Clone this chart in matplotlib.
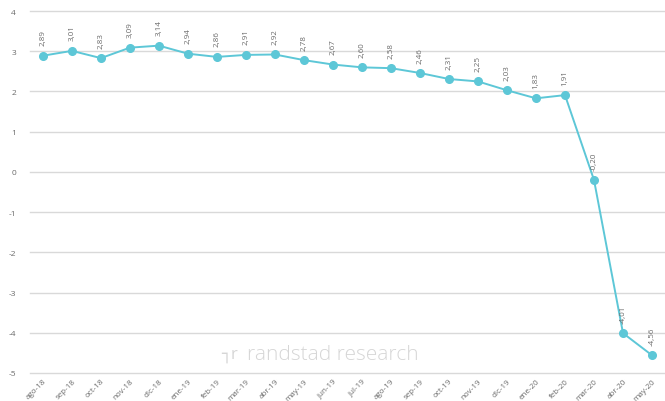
import matplotlib
matplotlib.use("Agg")
import matplotlib.pyplot as plt

months = ["ago-18", "sep-18", "oct-18", "nov-18", "dic-18", "ene-19", "feb-19", "mar-19",
          "abr-19", "may-19", "jun-19", "jul-19", "ago-19", "sep-19", "oct-19", "nov-19",
          "dic-19", "ene-20", "feb-20", "mar-20", "abr-20", "may-20"]
values = [2.89, 3.01, 2.83, 3.09, 3.14, 2.94, 2.86, 2.91, 2.92, 2.78, 2.67, 2.60,
          2.58, 2.46, 2.31, 2.25, 2.03, 1.83, 1.91, -0.20, -4.01, -4.56]
point_labels = ["2,89", "3,01", "2,83", "3,09", "3,14", "2,94", "2,86", "2,91", "2,92",
                "2,78", "2,67", "2,60", "2,58", "2,46", "2,31", "2,25", "2,03", "1,83",
                "1,91", "-0,20", "-4,01", "-4,56"]
yticks = [-5, -4, -3, -2, -1, 0, 1, 2, 3, 4]

plt.rcParams['font.family'] = ['Open Sans', 'DejaVu Sans']

fig = plt.figure(figsize=(6.65, 4.02), dpi=100)
ax = fig.add_axes([0.045, 0.0697, 0.955, 0.9003])

line_color = "#5DC7D7"
text_color = "#6a6a6a"
x = list(range(len(months)))
ax.plot(x, values, color=line_color, lw=1.4, marker="o", markersize=5.5, zorder=3)

for xi, v, lab in zip(x, values, point_labels):
    ax.annotate(lab, (xi, v), xytext=(0, 7.5), textcoords="offset points",
                rotation=90, ha="center", va="bottom", fontsize=5.8, color=text_color)

ax.set_xlim(-0.448, len(months) - 1 + 0.448)
ax.set_ylim(-5, 4)
ax.set_yticks(yticks)
ax.set_yticklabels([str(t) for t in yticks])
ax.grid(axis="y", color="#d9d9d9", lw=1)
for gl in ax.get_ygridlines():
    gl.set_clip_on(False)
ax.set_axisbelow(True)
for s in ax.spines.values():
    s.set_visible(False)
ax.tick_params(axis="y", length=0, pad=10, labelsize=6, labelcolor=text_color)
ax.tick_params(axis="x", length=0, pad=3, labelsize=5.8, labelcolor=text_color)
ax.set_xticks(x)
ax.set_xticklabels(months, rotation=45, ha="right", va="top", rotation_mode="anchor")

fig.text(0.333, 0.117, "\u2510r", fontsize=12, color="#d6d6d6", ha="left", va="center")
fig.text(0.371, 0.117, "randstad research", fontsize=15, color="#d6d6d6",
         ha="left", va="center", fontweight="light")

fig.savefig("out.png", dpi=100)
